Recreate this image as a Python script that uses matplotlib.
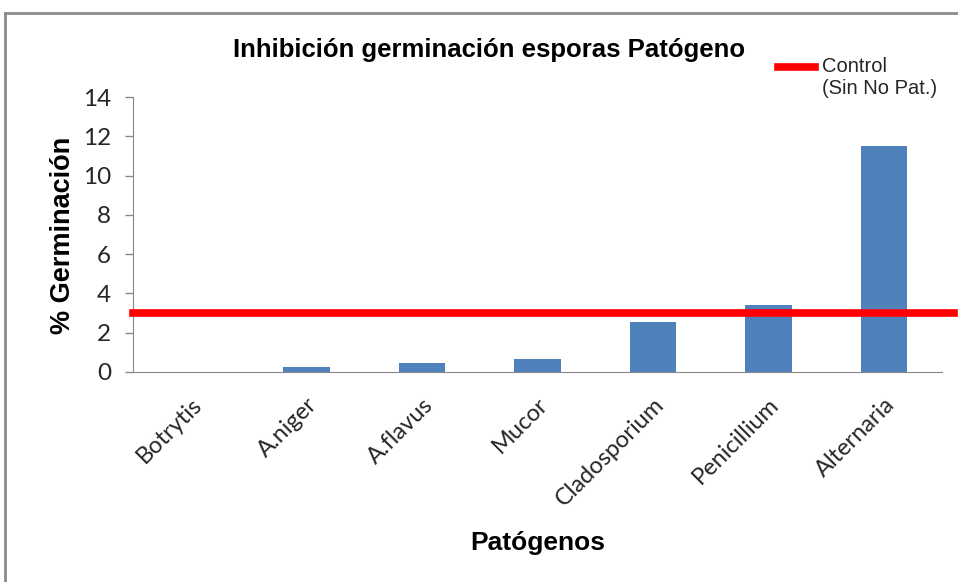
import matplotlib
matplotlib.use("Agg")
import matplotlib.pyplot as plt
from matplotlib.lines import Line2D
import matplotlib.transforms as mtransforms

categories = ["Botrytis", "A.niger", "A.flavus", "Mucor", "Cladosporium", "Penicillium", "Alternaria"]
germinacion = [0.0, 0.25, 0.45, 0.65, 2.55, 3.4, 11.5]
control = 3.0

fig = plt.figure(figsize=(9.58, 5.82), dpi=100)
ax = fig.add_axes([0.139, 0.361, 0.844, 0.472])

x = list(range(len(categories)))
ax.bar(x, germinacion, width=0.4, color="#4F81BD", zorder=2)

# control line runs a bit past the plot area, like the Excel original
trans = mtransforms.blended_transform_factory(ax.transAxes, ax.transData)
ax.plot([0, 1.015], [control, control], color="#FF0000", lw=5.5, transform=trans,
        clip_on=False, zorder=3)

ax.set_xlim(-0.5, len(categories) - 0.5)
ax.set_ylim(0, 14)
ax.set_yticks(range(0, 15, 2))
ax.set_xticks(x)
ax.set_xticklabels(categories, rotation=45, ha="right", rotation_mode="anchor",
                   fontsize=17, family="Lato", color="#262626")
ax.tick_params(axis="y", labelsize=17.5, length=6, pad=10, color="#888888", width=1,
               labelcolor="#262626")
ax.tick_params(axis="x", length=0, pad=16)
for lab in ax.get_yticklabels():
    lab.set_family("Lato")
for s in ["top", "right"]:
    ax.spines[s].set_visible(False)
for s in ["left", "bottom"]:
    ax.spines[s].set_color("#888888")

fig.text(0.511, 0.914, "Inhibición germinación esporas Patógeno", ha="center", va="center",
         fontsize=18.5, fontweight="bold", family="Liberation Sans")
fig.text(0.066, 0.596, "% Germinación", rotation=90, ha="center", va="center",
         fontsize=19.5, fontweight="bold", family="Liberation Sans")
fig.text(0.561, 0.067, "Patógenos", ha="center", va="center",
         fontsize=19, fontweight="bold", family="Liberation Sans")

# legend
fig.add_artist(Line2D([778 / 958, 815 / 958], [1 - 67 / 582, 1 - 67 / 582], color="#FF0000", lw=5.5))
fig.text(822 / 958, 1 - 67 / 582, "Control", ha="left", va="center", fontsize=14.5,
         family="Liberation Sans", color="#262626")
fig.text(822 / 958, 1 - 89 / 582, "(Sin No Pat.)", ha="left", va="center", fontsize=14.5,
         family="Liberation Sans", color="#262626")

# outer chart frame
fig.add_artist(Line2D([5 / 958, 5 / 958], [0, 1 - 13 / 582], color="#8C8C8C", lw=2))
fig.add_artist(Line2D([5 / 958, 1], [1 - 13 / 582, 1 - 13 / 582], color="#8C8C8C", lw=2))

fig.savefig("out.png", dpi=100)
